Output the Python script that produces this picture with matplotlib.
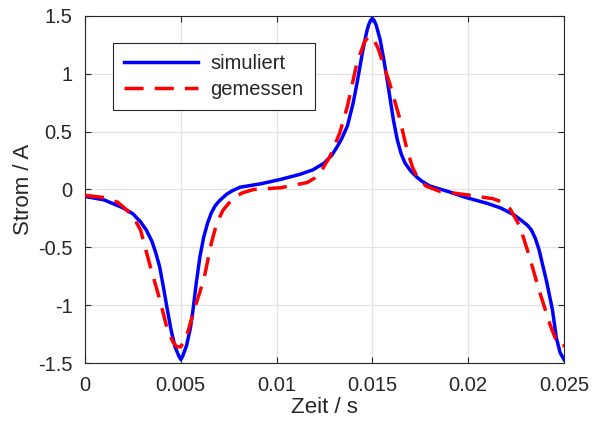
import matplotlib
matplotlib.use("Agg")
import matplotlib.pyplot as plt

plt.rcParams["font.family"] = ["Liberation Sans", "DejaVu Sans"]

# simulated current (A) over time (s)
t_sim = [0.0, 0.001, 0.002, 0.0025, 0.0029, 0.0032, 0.0035, 0.0037, 0.0039,
         0.0041, 0.0043, 0.0045, 0.0047, 0.0049, 0.005, 0.0051, 0.0053,
         0.0055, 0.00564, 0.0058, 0.006, 0.0062, 0.0064, 0.0066, 0.0068,
         0.007, 0.0072, 0.0074, 0.0077, 0.0081, 0.0092, 0.0102, 0.0112,
         0.0119, 0.0125, 0.0129, 0.0132, 0.0134, 0.0137, 0.014, 0.0142,
         0.0145, 0.0147, 0.0148, 0.0149, 0.015, 0.0151, 0.0152, 0.0154,
         0.0156, 0.0158, 0.0161, 0.0163, 0.0165, 0.0167, 0.017, 0.0173,
         0.0176, 0.018, 0.019, 0.0199, 0.021, 0.0217, 0.0224, 0.0228,
         0.0231, 0.0233, 0.0235, 0.0237, 0.0239, 0.0241, 0.0244, 0.0246,
         0.0248, 0.025]
i_sim = [-0.06, -0.09, -0.16, -0.21, -0.28, -0.35, -0.45, -0.55, -0.67,
         -0.85, -1.04, -1.22, -1.36, -1.44, -1.47, -1.44, -1.35,
         -1.2, -1.04, -0.82, -0.58, -0.41, -0.29, -0.2, -0.14,
         -0.1, -0.07, -0.04, -0.01, 0.02, 0.05, 0.087, 0.13,
         0.17, 0.23, 0.3, 0.38, 0.44, 0.55, 0.75, 0.92,
         1.2, 1.36, 1.42, 1.46, 1.48, 1.46, 1.42, 1.3,
         1.12, 0.92, 0.6, 0.43, 0.31, 0.23, 0.16, 0.11,
         0.07, 0.03, -0.02, -0.07, -0.12, -0.16, -0.22, -0.27,
         -0.31, -0.35, -0.42, -0.52, -0.66, -0.80, -1.04, -1.28,
         -1.41, -1.47]

# measured current (A) over time (s)
t_mes = [0.0, 0.001, 0.0017, 0.002, 0.0025, 0.0029, 0.0034, 0.0039, 0.0043,
         0.0046, 0.0048, 0.005, 0.0051, 0.0053, 0.0057, 0.0062, 0.0066,
         0.0068, 0.007, 0.0072, 0.0075, 0.0078, 0.0082, 0.0088, 0.0102,
         0.0116, 0.012, 0.0123, 0.0128, 0.0133, 0.0137, 0.0142, 0.0146,
         0.0148, 0.015, 0.0153, 0.0159, 0.0164, 0.0168, 0.0171, 0.0174,
         0.0178, 0.0185, 0.0201, 0.0213, 0.0218, 0.0222, 0.0227, 0.0232,
         0.0237, 0.0243, 0.0247, 0.025]
i_mes = [-0.05, -0.07, -0.11, -0.15, -0.23, -0.35, -0.66, -0.95, -1.21,
         -1.32, -1.36, -1.36, -1.33, -1.27, -1.04, -0.78, -0.46,
         -0.34, -0.25, -0.18, -0.12, -0.07, -0.03, 0.0, 0.015,
         0.06, 0.1, 0.15, 0.29, 0.49, 0.72, 1.1, 1.28,
         1.32, 1.32, 1.22, 0.92, 0.63, 0.35, 0.19, 0.09,
         0.03, -0.015, -0.05, -0.08, -0.11, -0.17, -0.32, -0.58,
         -0.87, -1.18, -1.35, -1.35]

x_ticks = [0, 0.005, 0.01, 0.015, 0.02, 0.025]
x_labels = ["0", "0.005", "0.01", "0.015", "0.02", "0.025"]
y_ticks = [-1.5, -1, -0.5, 0, 0.5, 1, 1.5]
y_labels = ["-1.5", "-1", "-0.5", "0", "0.5", "1", "1.5"]

ink = "#262626"

fig = plt.figure(figsize=(5.93, 4.32), dpi=100)
ax = fig.add_axes([0.1433, 0.1597, 0.8077, 0.8033])

ax.plot(t_sim, i_sim, color="#0000ff", lw=2.5, label="simuliert",
        solid_joinstyle="round", zorder=3)
ax.plot(t_mes, i_mes, color="#ff0000", lw=2.5, ls=(0, (5.5, 3.2)),
        label="gemessen", zorder=3)

ax.set_xlim(0, 0.025)
ax.set_ylim(-1.5, 1.5)
ax.set_xticks(x_ticks, x_labels)
ax.set_yticks(y_ticks, y_labels)
ax.grid(True, color="#e3e3e3", lw=0.9)
ax.set_axisbelow(True)
ax.tick_params(direction="in", top=True, right=True, length=4, width=0.8,
               color=ink, labelcolor=ink, labelsize=14.5, pad=9)
for s in ax.spines.values():
    s.set_color(ink)
    s.set_linewidth(0.8)

ax.set_xlabel("Zeit / s", fontsize=16, color=ink, labelpad=2)
ax.set_ylabel("Strom / A", fontsize=16, color=ink, labelpad=3)

leg = ax.legend(loc="upper left", bbox_to_anchor=(0.058, 0.922),
                borderaxespad=0, fontsize=14.5, handlelength=3.7,
                handletextpad=0.6, borderpad=0.55, labelspacing=0.35,
                fancybox=False, framealpha=1)
leg.get_frame().set_edgecolor(ink)
leg.get_frame().set_linewidth(0.8)
for txt in leg.get_texts():
    txt.set_color(ink)

fig.savefig("out.png", dpi=100)
